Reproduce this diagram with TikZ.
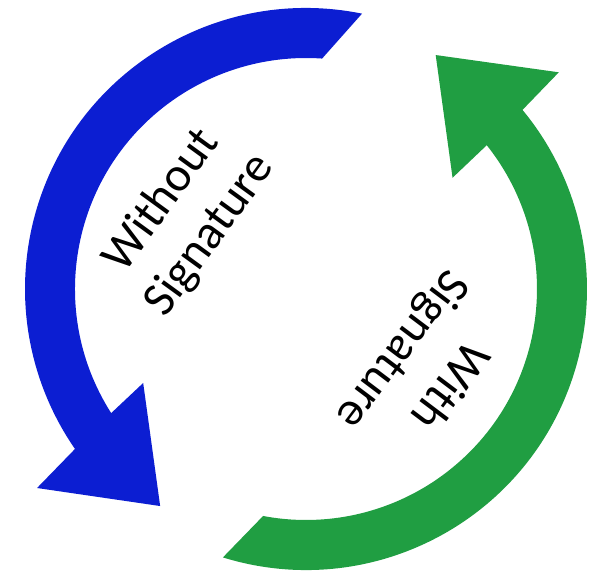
\documentclass[tikz,border=0pt]{standalone}
\usepackage{fontspec}
\setmainfont{Carlito}
\usepackage{xcolor}
\definecolor{sigblue}{RGB}{12,30,210}
\definecolor{siggreen}{RGB}{32,158,66}

\begin{document}
\begin{tikzpicture}[x=0.025cm,y=0.025cm,
  cycletext/.style={font=\fontsize{34.5}{42}\selectfont,align=center,inner sep=0pt}]
\useasboundingbox (-306,-283) rectangle (287,289);
\coordinate (o) at (0,0);

% blue arrow, left half, head at the bottom
\coordinate (b1) at (78.5:281);
\coordinate (b3) at (216.5:334.6);
\coordinate (b4) at (236.1:261.5);
\coordinate (b5) at (210:188);
\coordinate (b6) at (212.5:231);

\fill[sigblue] (b1) arc[start angle=78.5,end angle=214.7,radius=281]
  -- (b3) -- (b4) -- (b5) -- (b6)
  arc[start angle=212.5,end angle=86,radius=231] -- cycle;

% green arrow, right half, head at the top
\coordinate (g1) at (252.8:281);
\coordinate (g3) at (40.6:333);
\coordinate (g4) at (61:267.5);
\coordinate (g5) at (37.2:184);
\coordinate (g6) at (38.5:231);

\fill[siggreen] (g1) arc[start angle=252.8,end angle=399.6,radius=281]
  -- (g3) -- (g4) -- (g5) -- (g6)
  arc[start angle=398.5,end angle=259.3,radius=231] -- cycle;

\node [cycletext,rotate=54] (without) at (-120,71) {Without\\Signature};
\node [cycletext,rotate=233] (with) at (119,-78) {With\\Signature};

\end{tikzpicture}
\end{document}
